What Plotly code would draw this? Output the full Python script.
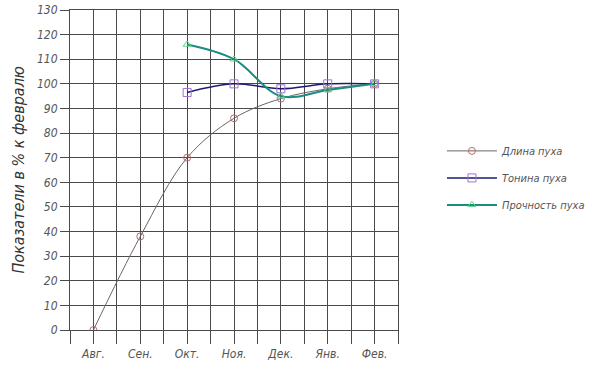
import plotly.graph_objects as go

months = ["Авг.", "Сен.", "Окт.", "Ноя.", "Дек.", "Янв.", "Фев."]
length_vals = [0, 38, 70, 86, 94, 98, 100]
fineness_months = ["Окт.", "Ноя.", "Дек.", "Янв.", "Фев."]
fineness_vals = [96.5, 100, 98, 100, 100]
strength_vals = [116, 110, 95, 97.5, 100]
y_ticks = list(range(0, 140, 10))
y_title = "Показатели в % к февралю"

idx = {m: i for i, m in enumerate(months)}
font_family = "Liberation Sans Narrow, DejaVu Sans Condensed, Arial Narrow, sans-serif"

fig = go.Figure()
fig.add_trace(go.Scatter(
    x=[idx[m] for m in months], y=length_vals, name="Длина пуха",
    mode="lines+markers", line=dict(color="#6e6464", width=1, shape="spline"),
    marker=dict(symbol="circle-open", size=7, color="#b86a6a", line=dict(width=1)),
    legendgroup="a"))
fig.add_trace(go.Scatter(
    x=[idx[m] for m in fineness_months], y=fineness_vals, name="Тонина пуха",
    mode="lines+markers", line=dict(color="#1c1a6e", width=1.5, shape="spline"),
    marker=dict(symbol="square-open", size=8, color="#a070d8", line=dict(width=1)),
    legendgroup="b"))
fig.add_trace(go.Scatter(
    x=[idx[m] for m in fineness_months], y=strength_vals, name="Прочность пуха",
    mode="lines+markers", line=dict(color="#1a8c82", width=2, shape="spline"),
    marker=dict(symbol="triangle-up-open", size=7, color="#5fd080", line=dict(width=1)),
    legendgroup="c"))

tickvals = []
ticktext = []
for i, m in enumerate(months):
    tickvals += [i - 0.5, i]
    ticktext += ["", m]
tickvals.append(len(months) - 0.5)
ticktext.append("")

fig.update_layout(
    width=590, height=365,
    margin=dict(l=70, r=192, t=10, b=35, autoexpand=False),
    paper_bgcolor="white", plot_bgcolor="white",
    font=dict(family=font_family, size=12, color="#555555", style="italic"),
    showlegend=True,
    legend=dict(x=1.134, y=0.605, xanchor="left", yanchor="top",
                font=dict(size=11, color="#555555", style="italic"),
                tracegroupgap=8, bgcolor="rgba(0,0,0,0)", itemwidth=50),
    xaxis=dict(range=[-0.5, len(months) - 0.5], tickmode="array",
               tickvals=tickvals, ticktext=ticktext, automargin=False,
               showgrid=True, gridcolor="#4a4a4a", gridwidth=1,
               ticks="outside", ticklen=13, tickcolor="#4a4a4a", tickwidth=1,
               showline=True, linecolor="#4a4a4a", mirror=True,
               zeroline=False, tickfont=dict(size=12, color="#555555")),
    yaxis=dict(range=[0, 130], tickmode="array", tickvals=y_ticks, automargin=False,
               showgrid=True, gridcolor="#4a4a4a", gridwidth=1,
               ticks="outside", ticklen=9, tickcolor="#4a4a4a", tickwidth=1,
               showline=True, linecolor="#4a4a4a", mirror=True,
               zeroline=False, tickfont=dict(size=12, color="#555555")),
    annotations=[dict(text=y_title, xref="paper", yref="paper", x=-0.16, y=0.5,
                      xanchor="center", yanchor="middle", textangle=-90,
                      showarrow=False, font=dict(size=16, color="#333333"))],
)

fig.write_html("out.html", config={"displayModeBar": False},
               post_script="document.body.style.margin='0';document.body.style.overflow='hidden';")
